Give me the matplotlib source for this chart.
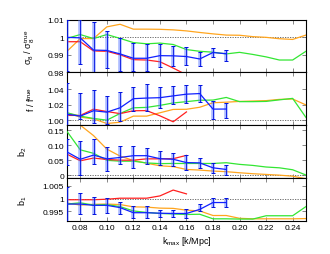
import matplotlib
matplotlib.use('Agg')
import matplotlib.pyplot as plt
import numpy as np

plt.rcParams['font.family'] = ['Liberation Sans', 'DejaVu Sans']
plt.rcParams['mathtext.fontset'] = 'custom'
plt.rcParams['mathtext.rm'] = 'Liberation Sans'
plt.rcParams['mathtext.it'] = 'Liberation Sans'

# k_max 网格
k_all = [0.07, 0.08, 0.09, 0.10, 0.11, 0.12, 0.13, 0.14, 0.15, 0.16,
         0.17, 0.18, 0.19, 0.20, 0.21, 0.22, 0.23, 0.24, 0.25]
k_blue = k_all[:13]
k_red = k_all[:10]

# sigma8 / sigma8_true
s8_orange = [0.9920, 0.9993, 0.9993, 1.0060, 1.0075, 1.0047, 1.0047, 1.0046, 1.0043, 1.0037,
             1.0028, 1.0020, 1.0013, 1.0012, 1.0004, 1.0000, 0.9992, 0.9988, 1.0013]
s8_green = [0.9994, 1.0016, 0.9993, 1.0016, 0.9994, 0.9970, 0.9963, 0.9967, 0.9959, 0.9930,
            0.9920, 0.9915, 0.9905, 0.9914, 0.9902, 0.9888, 0.9870, 0.9870, 0.9920]
s8_red = [0.9975, 0.9975, 0.9922, 0.9920, 0.9900, 0.9872, 0.9870, 0.9860, 0.9824, 0.9785]
s8_blue = [1.0000, 0.9997, 0.9927, 0.9925, 0.9905, 0.9880, 0.9880, 0.9895, 0.9894, 0.9890,
           0.9876, 0.9913, 0.9906]
s8_lo = [0.9806, 0.9845, 0.9770, 0.9822, 0.9808, 0.9808, 0.9806, 0.9831, 0.9835, 0.9839,
         0.9837, 0.9886, 0.9867]
s8_hi = [1.0098, 1.0150, 1.0086, 1.0037, 0.9994, 0.9969, 0.9959, 0.9959, 0.9949, 0.9945,
         0.9916, 0.9939, 0.9929]

# f / f_true
f_orange = [1.0099, 1.0043, 1.0021, 0.9961, 0.9978, 1.0056, 1.0056, 1.0099, 1.0142, 1.0144,
            1.0170, 1.0228, 1.0235, 1.0245, 1.0250, 1.0255, 1.0271, 1.0276, 1.0200]
f_green = [1.0099, 1.0056, 1.0026, 1.0004, 1.0090, 1.0163, 1.0168, 1.0194, 1.0225, 1.0242,
           1.0260, 1.0262, 1.0296, 1.0242, 1.0242, 1.0245, 1.0265, 1.0284, 1.0040]
f_red = [1.0065, 1.0065, 1.0145, 1.0115, 1.0088, 1.0125, 1.0127, 1.0060, 0.9983, 1.0110]
f_blue = [1.0080, 1.0056, 1.0125, 1.0107, 1.0163, 1.0280, 1.0288, 1.0293, 1.0316, 1.0338,
          1.0346, 1.0146, 1.0147]
f_lo = [0.9900, 1.0013, 0.9970, 0.9957, 0.9990, 1.0120, 1.0120, 1.0160, 1.0210, 1.0220,
        1.0235, 1.0024, 1.0030]
f_hi = [1.0487, 1.0357, 1.0391, 1.0314, 1.0366, 1.0435, 1.0464, 1.0430, 1.0445, 1.0460,
        1.0456, 1.0255, 1.0220]

# b2
b2_orange = [0.2100, 0.1670, 0.1320, 0.0870, 0.0636, 0.0490, 0.0398, 0.0313, 0.0285, 0.0190,
             0.0170, 0.0136, 0.0116, 0.0080, 0.0048, 0.0024, 0.0000, -0.0034, -0.0120]
b2_green = [0.1460, 0.0845, 0.0729, 0.0495, 0.0466, 0.0466, 0.0408, 0.0385, 0.0390, 0.0390,
            0.0390, 0.0390, 0.0415, 0.0360, 0.0325, 0.0272, 0.0245, 0.0180, 0.0005]
b2_red = [0.0700, 0.0480, 0.0570, 0.0524, 0.0500, 0.0500, 0.0544, 0.0544, 0.0550, 0.0660]
b2_blue = [0.0775, 0.0530, 0.0670, 0.0544, 0.0590, 0.0650, 0.0650, 0.0550, 0.0530, 0.0420,
           0.0410, 0.0245, 0.0190]
b2_lo = [0.0350, 0.0000, 0.0370, 0.0150, 0.0370, 0.0240, 0.0370, 0.0354, 0.0310, 0.0160,
         0.0250, 0.0060, 0.0020]
b2_hi = [0.1200, 0.1150, 0.1200, 0.0940, 0.0976, 0.0976, 0.0918, 0.0806, 0.0740, 0.0670,
         0.0580, 0.0390, 0.0330]

# b1
b1_orange = [0.9983, 0.9975, 0.9978, 0.9979, 0.9977, 0.9968, 0.9967, 0.9963, 0.9962, 0.9955,
             0.9952, 0.9934, 0.9934, 0.9923, 0.9921, 0.9921, 0.9921, 0.9921, 0.9922]
b1_green = [0.9979, 0.9984, 0.9975, 0.9977, 0.9969, 0.9952, 0.9946, 0.9942, 0.9940, 0.9938,
            0.9939, 0.9921, 0.9921, 0.9920, 0.9920, 0.9933, 0.9933, 0.9933, 0.9969]
b1_red = [0.9996, 0.9996, 0.9996, 0.9998, 1.0002, 1.0002, 1.0002, 1.0011, 1.0034, 1.0019]
b1_blue = [0.9979, 0.9979, 0.9974, 0.9974, 0.9965, 0.9945, 0.9945, 0.9943, 0.9942, 0.9942,
           0.9958, 0.9985, 0.9985]
b1_lo = [0.9905, 0.9940, 0.9940, 0.9943, 0.9938, 0.9923, 0.9923, 0.9927, 0.9927, 0.9923,
         0.9952, 0.9969, 0.9969]
b1_hi = [1.0045, 1.0021, 1.0005, 1.0001, 0.9987, 0.9972, 0.9970, 0.9956, 0.9956, 0.9958,
         0.9978, 1.0001, 1.0001]

panels = [
    (s8_orange, s8_green, s8_red, s8_blue, s8_lo, s8_hi, 1.0),
    (f_orange, f_green, f_red, f_blue, f_lo, f_hi, 1.0),
    (b2_orange, b2_green, b2_red, b2_blue, b2_lo, b2_hi, 0.0),
    (b1_orange, b1_green, b1_red, b1_blue, b1_lo, b1_hi, 1.0),
]
ylabels = [r'$\sigma_8$ / $\sigma_8^{\rm true}$', r'f / f$^{\rm true}$', r'b$_2$', r'b$_1$']
ylims = [(0.98, 1.01), (0.9948, 1.062), (-0.009, 0.169), (0.9912, 1.0082)]
yticks = [[0.98, 0.99, 1.0, 1.01], [1.00, 1.02, 1.04], [0.0, 0.05, 0.10, 0.15], [0.995, 1.0, 1.005]]
yticklabels = [['0.98', '0.99', '1', '1.01'], ['1.00', '1.02', '1.04'],
               ['0', '0.05', '0.10', '0.15'], ['0.995', '1', '1.005']]
label_x = [-0.125, -0.125, -0.16, -0.16]
xticks = [0.08, 0.10, 0.12, 0.14, 0.16, 0.18, 0.20, 0.22, 0.24]

fig = plt.figure(figsize=(3.3, 2.55), dpi=100)
gs = fig.add_gridspec(4, 1, height_ratios=[52, 52, 53, 43], hspace=0,
                      left=0.203, right=0.927, top=0.918, bottom=0.129)

for i, (orange, green, red, blue, lo, hi, ref) in enumerate(panels):
    ax = fig.add_subplot(gs[i])
    ax.axhline(ref, color='0.35', lw=0.6, ls=(0, (1.5, 1.5)), zorder=1)
    ax.plot(k_all, orange, color='#ffa51e', lw=0.9, zorder=2)
    ax.plot(k_all, green, color='#33e633', lw=0.9, zorder=3)
    ax.plot(k_red, red, color='#ff2020', lw=0.9, zorder=4)
    c = np.array(blue)
    yerr = [c - np.array(lo), np.array(hi) - c]
    ax.errorbar(k_blue, blue, yerr=yerr, fmt='none', ecolor='#5a78ff', alpha=0.5,
                elinewidth=2.6, capsize=0, zorder=5)
    ax.errorbar(k_blue, blue, yerr=yerr, fmt='none', ecolor='#0010e0', elinewidth=0.6,
                capsize=1.6, capthick=0.7, zorder=6)
    ax.plot(k_blue, blue, color='#1020ff', lw=0.9, zorder=7)

    ax.set_xlim(0.07, 0.25)
    ax.set_ylim(*ylims[i])
    ax.set_yticks(yticks[i])
    ax.set_yticklabels(yticklabels[i])
    ax.set_xticks(xticks)
    ax.tick_params(direction='in', length=3, width=0.6, color='0.45', labelsize=6,
                   top=True, right=True, pad=2)
    for sp in ax.spines.values():
        sp.set_linewidth(0.8)
    ax.set_ylabel(ylabels[i], fontsize=6.5)
    ax.yaxis.set_label_coords(label_x[i], 0.5)
    if i < 3:
        ax.tick_params(labelbottom=False)
    else:
        ax.set_xticklabels(['%.2f' % t for t in xticks])
        ax.set_xlabel(r'k$_{\rm max}$ [k/Mpc]', fontsize=6.5, labelpad=2)

fig.savefig('out.png', dpi=100)
